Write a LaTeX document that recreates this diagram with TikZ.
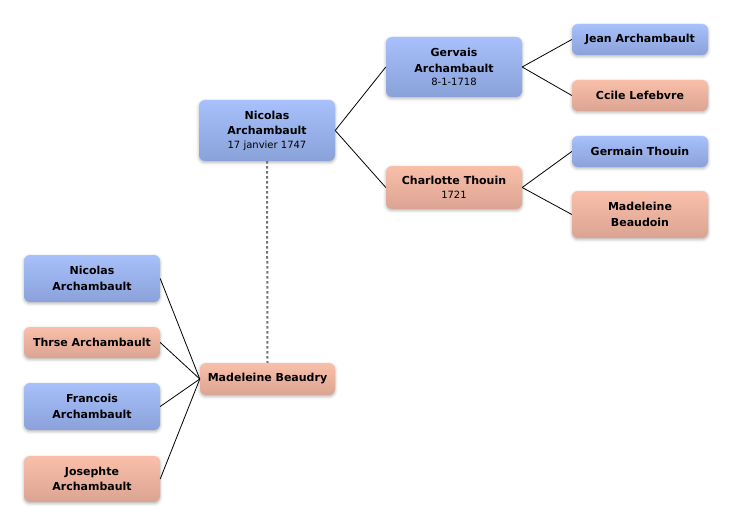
\documentclass[tikz,border=0pt]{standalone}
\usepackage{fontspec}
\setmainfont{DejaVu Sans}
\usetikzlibrary{shadows.blur}
\definecolor{bluetop}{HTML}{A8C0FB}
\definecolor{bluebot}{HTML}{8AA1D9}
\definecolor{pinktop}{HTML}{F9BFA9}
\definecolor{pinkbot}{HTML}{DBA492}
\tikzset{
  person/.style={rounded corners=6pt, minimum width=136pt, inner sep=0pt, align=center,
    font=\fontsize{11}{15.5}\selectfont\bfseries,
    blur shadow={shadow xshift=0pt, shadow yshift=-1.5pt, shadow blur radius=3pt, shadow opacity=30}},
  male/.style={person, top color=bluetop, bottom color=bluebot},
  female/.style={person, top color=pinktop, bottom color=pinkbot},
  link/.style={draw=black, line width=0.8pt},
  marriage/.style={draw=black!55, line width=2pt, dash pattern=on 2.5pt off 2.5pt}
}
\newcommand{\dt}[1]{\\[-2pt]{\fontsize{10}{12}\selectfont\mdseries #1}}
\begin{document}
\begin{tikzpicture}[x=1pt,y=-1pt]
\useasboundingbox (0,0) rectangle (732,527);
\node[male, minimum height=61pt] (nic) at (267,130.5) {Nicolas\\Archambault\dt{17 janvier 1747}};
\node[male, minimum height=60pt] (ger) at (454,67) {Gervais\\Archambault\dt{8-1-1718}};
\node[female, minimum height=43pt] (cha) at (454,187.5) {Charlotte Thouin\dt{1721}};
\node[male, minimum height=31pt] (jea) at (640,39.5) {Jean Archambault};
\node[female, minimum height=31pt] (cci) at (640,95.5) {Ccile Lefebvre};
\node[male, minimum height=31pt] (grm) at (640,151.5) {Germain Thouin};
\node[female, minimum height=47pt] (mbd) at (640,214.5) {Madeleine\\Beaudoin};
\node[female, minimum height=32pt, minimum width=135pt] (mby) at (267.5,379) {Madeleine Beaudry};
\node[male, minimum height=47pt] (c1) at (92,278.5) {Nicolas\\Archambault};
\node[female, minimum height=31pt] (c2) at (92,342.5) {Thrse Archambault};
\node[male, minimum height=47pt] (c3) at (92,406.5) {Francois\\Archambault};
\node[female, minimum height=46pt] (c4) at (92,479) {Josephte\\Archambault};
\draw[link] (nic.east) -- (ger.west);
\draw[link] (nic.east) -- (cha.west);
\draw[link] (ger.east) -- (jea.west);
\draw[link] (ger.east) -- (cci.west);
\draw[link] (cha.east) -- (grm.west);
\draw[link] (cha.east) -- (mbd.west);
\draw[link] (c1.east) -- (mby.west);
\draw[link] (c2.east) -- (mby.west);
\draw[link] (c3.east) -- (mby.west);
\draw[link] (c4.east) -- (mby.west);
\draw[marriage] (nic.south) -- (mby.north);
\end{tikzpicture}
\end{document}
